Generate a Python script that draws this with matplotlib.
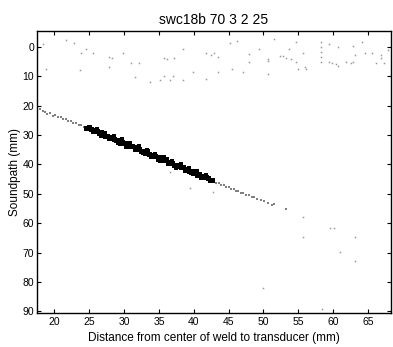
import matplotlib
matplotlib.use("Agg")
import matplotlib.pyplot as plt

plt.rcParams['font.family'] = ['Liberation Sans', 'DejaVu Sans']

title = "swc18b 70 3 2 25"
xlabel = "Distance from center of weld to transducer (mm)"
ylabel = "Soundpath (mm)"
xticks = [20, 25, 30, 35, 40, 45, 50, 55, 60, 65]
yticks = [0, 10, 20, 30, 40, 50, 60, 70, 80, 90]

# strong weld-root echoes (dense band), centre row
strong_x = [24.6, 24.9, 25.2, 25.5, 25.8, 26.1, 26.4, 26.7, 27.0, 27.3, 27.6, 27.9,
            28.2, 28.5, 28.8, 29.1, 29.4, 29.7, 30.0, 30.3, 30.6, 30.9, 31.2, 31.5,
            31.8, 32.1, 32.4, 32.7, 33.0, 33.3, 33.6, 33.9, 34.2, 34.5, 34.8, 35.1,
            35.4, 35.7, 36.0, 36.3, 36.6, 36.9, 37.2, 37.5, 37.8, 38.1, 38.4, 38.7,
            39.0, 39.3, 39.6, 39.9, 40.2, 40.5, 40.8, 41.1, 41.4, 41.7, 42.0, 42.3, 42.6]
strong_y = [27.5, 27.3, 28.0, 28.6, 28.3, 28.8, 29.4, 29.0, 29.8, 30.2, 30.2, 31.0,
            30.6, 31.2, 31.7, 31.6, 32.6, 32.3, 32.8, 32.6, 33.6, 33.6, 33.7, 34.6,
            34.2, 34.9, 35.3, 35.3, 36.1, 35.6, 36.3, 36.9, 36.7, 37.3, 38.0, 37.5,
            38.1, 38.6, 38.3, 39.3, 39.4, 39.4, 40.3, 40.1, 40.5, 41.0, 40.8, 41.7,
            41.6, 42.1, 42.7, 42.4, 42.9, 43.5, 43.2, 43.9, 44.3, 44.2, 44.7, 45.3, 45.2]

# strong echoes spread either side of the centre row
edge_x = [25.5, 26.1, 26.7, 27.3, 27.9, 28.5, 29.1, 29.7, 30.3, 30.9, 31.5, 32.1,
          32.7, 33.3, 33.9, 34.5, 35.1, 35.7, 36.3, 36.9, 37.5, 38.1, 38.7, 39.3,
          39.9, 40.5, 41.1, 41.7]
edge_y = [29.1, 27.9, 30.4, 29.2, 31.5, 30.2, 32.6, 31.5, 34.0, 32.8, 35.1, 33.8,
          36.2, 35.1, 37.6, 36.4, 38.7, 37.4, 39.8, 38.7, 41.2, 40.0, 42.3, 41.1,
          43.4, 42.4, 44.5, 43.7]

# weaker echoes continuing the same trace at both ends
weak_x = [18.0, 18.3, 18.7, 19.0, 19.4, 19.8, 20.1, 20.5, 20.9, 21.3, 21.6, 22.0,
          22.4, 22.7, 23.1, 23.5, 23.8, 24.2,
          42.9, 43.2, 43.6, 43.9, 44.3, 44.6, 45.0, 45.3, 45.7, 46.0, 46.4, 46.8,
          47.1, 47.5, 47.9, 48.3, 48.7, 49.1, 49.6, 50.1, 50.7, 51.2, 51.5, 53.2]
weak_y = [21.3, 22.0, 22.1, 22.7, 22.6, 23.4, 23.3, 24.0, 23.9, 24.7, 24.5, 25.3,
          25.2, 26.0, 25.8, 26.6, 26.5, 27.3,
          45.5, 46.3, 46.3, 47.0, 46.9, 47.7, 47.6, 48.4, 48.2, 49.1, 48.9, 49.8,
          49.6, 50.4, 50.3, 51.1, 51.0, 51.8, 52.0, 52.6, 53.1, 53.9, 53.4, 55.1]

# isolated low-level noise detections
noise_x = [21.7, 22.8, 24.5, 23.8, 25.5, 27.8, 28.3, 29.9, 23.7, 27.8, 31.0, 32.2,
           31.6, 33.7, 35.7, 36.1, 37.1, 38.5, 35.7, 37.0, 36.6, 35.2, 38.5, 39.9,
           41.8, 42.4, 41.8, 45.2, 46.2, 51.5, 54.7, 49.3, 53.6, 58.3, 58.3, 58.3,
           58.3, 58.3, 59.4, 60.7, 62.9, 64.2, 42.9, 43.5, 47.9, 50.6, 50.6, 52.3,
           52.8, 53.2, 54.0, 55.6, 54.7, 55.9, 55.0, 56.1, 59.4, 59.8, 60.4, 60.7,
           61.8, 62.5, 62.9, 63.2, 64.5, 65.6, 66.8, 66.8, 66.2, 67.3, 67.8, 43.5,
           45.5, 47.1, 50.6, 47.9, 18.4, 18.8,
           36.6, 39.4, 42.7, 55.7, 59.5, 60.1, 63.2, 55.7, 61.0, 63.1, 50.0, 58.4]
noise_y = [-2.3, -1.3, 0.7, 2.1, 2.1, 3.4, 3.8, 2.1, 7.9, 6.8, 5.5, 5.5,
           10.2, 11.9, 3.8, 4.1, 3.8, 0.7, 9.9, 9.9, 11.3, 11.3, 11.3, 8.5,
           2.1, 2.8, 10.9, -1.3, -2.0, -2.7, -1.7, 0.7, 0.7, -1.7, 0.0, 1.7,
           3.4, 5.2, -1.0, 0.0, -0.3, -1.7, 2.1, 3.4, 2.4, 4.1, 4.8, 3.1,
           3.1, 3.8, 4.1, 2.1, 5.1, 6.8, 7.5, 7.5, 5.1, 5.5, 5.8, 6.5,
           5.1, 5.5, 5.1, 2.8, 2.1, 2.1, 2.8, 3.8, 5.5, 5.5, 1.0, 8.5,
           7.5, 8.5, 9.2, 5.1, -1.0, 7.5,
           42.6, 48.0, 49.4, 57.9, 61.6, 61.6, 64.7, 64.7, 69.8, 72.9, 82.0, 89.2]

fig = plt.figure(figsize=(3.93, 3.47), dpi=100)
ax = fig.add_axes([0.094, 0.099, 0.901, 0.812])

ax.plot(noise_x, noise_y, ls='none', marker='s', ms=1.1, mew=0, color='0.6')
ax.plot(weak_x, weak_y, ls='none', marker='s', ms=1.5, mew=0, color='0.5')
ax.plot(edge_x, edge_y, ls='none', marker='s', ms=3.0, mew=0, color='black')
ax.plot(strong_x, strong_y, ls='none', marker='s', ms=3.6, mew=0, color='black')

ax.set_xlim(17.5, 68.3)
ax.set_ylim(90.4, -5.4)
ax.set_xticks(xticks)
ax.set_yticks(yticks)
ax.tick_params(direction='in', length=3, width=0.8, top=True, right=True,
               labelsize=7.5, colors='black')
ax.tick_params(axis='x', pad=3)
ax.tick_params(axis='y', pad=2)
for s in ax.spines.values():
    s.set_linewidth(1.0)
    s.set_color('black')

ax.set_title(title, fontsize=10, pad=5)
ax.set_xlabel(xlabel, fontsize=8.5, labelpad=4)
ax.set_ylabel(ylabel, fontsize=8.5, labelpad=1)

fig.savefig("out.png", dpi=100)
